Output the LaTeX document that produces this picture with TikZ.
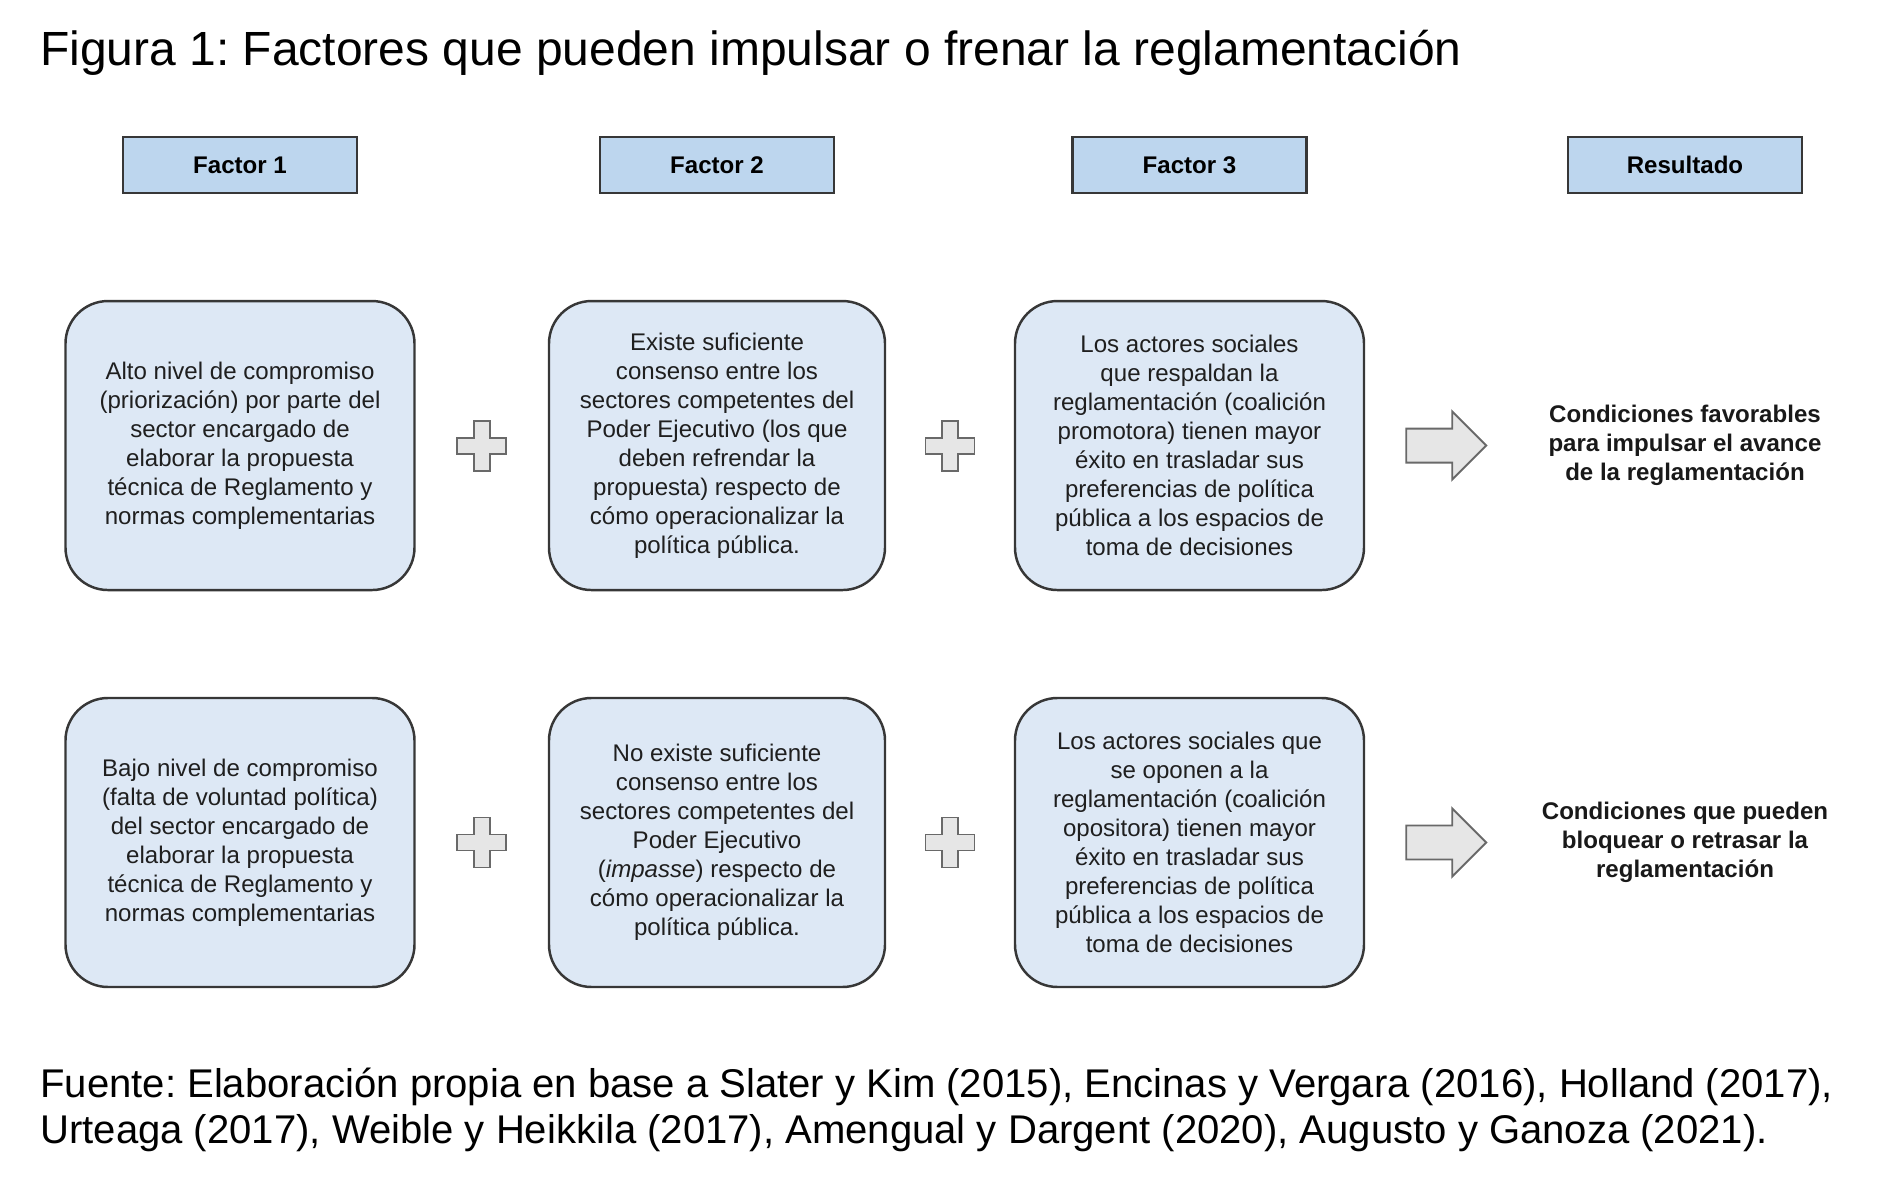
\documentclass[tikz,border=0pt]{standalone}
\usepackage{fontspec}
\setmainfont{Liberation Sans}
\frenchspacing
\usetikzlibrary{positioning}
\definecolor{headblue}{RGB}{189,214,238}
\definecolor{paleblue}{RGB}{221,232,245}
\definecolor{edgegray}{RGB}{55,55,55}
\definecolor{signgray}{RGB}{230,230,230}
\definecolor{signedge}{RGB}{105,105,105}
\tikzset{
  head/.style={draw=edgegray, line width=1.5pt, fill=headblue,
               minimum width=4.68cm, minimum height=1.12cm,
               font=\fontsize{13.7}{16.5}\selectfont\bfseries},
  factor/.style={draw=edgegray, line width=1.4pt, fill=paleblue,
                 rounded corners=0.85cm, align=center, minimum height=5.78cm,
                 minimum width=6.98cm, inner sep=2pt, text=black!88,
                 font=\fontsize{13.7}{16.5}\selectfont},
  result/.style={align=center, text=black!90,
                 font=\fontsize{13.7}{16.5}\selectfont\bfseries},
  sign/.style={draw=signedge, line width=1.1pt, fill=signgray}
}
\newcommand{\plussign}[1]{\draw[sign, shift={(#1)}] (-0.16,0.5) -- (0.16,0.5) -- (0.16,0.16) -- (0.49,0.16) -- (0.49,-0.16) -- (0.16,-0.16) -- (0.16,-0.5) -- (-0.16,-0.5) -- (-0.16,-0.16) -- (-0.49,-0.16) -- (-0.49,0.16) -- (-0.16,0.16) -- cycle;}
\newcommand{\fatarrow}[1]{\draw[sign, shift={(#1)}] (-0.8,0.34) -- (0.12,0.34) -- (0.12,0.68) -- (0.8,0) -- (0.12,-0.68) -- (0.12,-0.34) -- (-0.8,-0.34) -- cycle;}

\begin{document}
\begin{tikzpicture}[node distance=2.11cm]
  \useasboundingbox (0,0) rectangle (37.92,23.84);
  \node[anchor=base west, inner sep=0, font=\fontsize{27.3}{32}\selectfont] (title) at (0.8,22.52)
    {Figura 1: Factores que pueden impulsar o frenar la reglamentación};
  \node[head] (h1) at (4.8,20.54) {Factor 1};
  \node[head] (h2) at (14.34,20.54) {Factor 2};
  \node[head] (h3) at (23.79,20.54) {Factor 3};
  \node[head] (h4) at (33.7,20.54) {Resultado};
  \node[factor, below=of h1] (f11) {Alto nivel de compromiso\\(priorización) por parte del\\sector encargado de\\elaborar la propuesta\\técnica de Reglamento y\\normas complementarias};
  \node[factor, minimum width=6.72cm, below=of h2] (f12) {Existe suficiente\\consenso entre los\\sectores competentes del\\Poder Ejecutivo (los que\\deben refrendar la\\propuesta) respecto de\\cómo operacionalizar la\\política pública.};
  \node[factor, below=of h3] (f13) {Los actores sociales\\que respaldan la\\reglamentación (coalición\\promotora) tienen mayor\\éxito en trasladar sus\\preferencias de política\\pública a los espacios de\\toma de decisiones};
  \node[result] (r1) at (h4 |- f13) {Condiciones favorables\\para impulsar el avance\\de la reglamentación};
  \node[factor, below=of f11] (f21) {Bajo nivel de compromiso\\(falta de voluntad política)\\del sector encargado de\\elaborar la propuesta\\técnica de Reglamento y\\normas complementarias};
  \node[factor, minimum width=6.72cm, below=of f12] (f22) {No existe suficiente\\consenso entre los\\sectores competentes del\\Poder Ejecutivo\\(\textit{impasse}) respecto de\\cómo operacionalizar la\\política pública.};
  \node[factor, below=of f13] (f23) {Los actores sociales que\\se oponen a la\\reglamentación (coalición\\opositora) tienen mayor\\éxito en trasladar sus\\preferencias de política\\pública a los espacios de\\toma de decisiones};
  \node[result] (r2) at (h4 |- f23) {Condiciones que pueden\\bloquear o retrasar la\\reglamentación};
  \path (f11) -- (f12) coordinate[midway] (p11);
  \path (f12) -- (f13) coordinate[midway] (p12);
  \path (f21) -- (f22) coordinate[midway] (p21);
  \path (f22) -- (f23) coordinate[midway] (p22);
  \coordinate (a1) at ([xshift=1.62cm]f13.east);
  \coordinate (a2) at ([xshift=1.62cm]f23.east);
  \plussign{p11}
  \plussign{p12}
  \plussign{p21}
  \plussign{p22}
  \fatarrow{a1}
  \fatarrow{a2}
  \node[anchor=base west, inner sep=0, font=\fontsize{22.8}{26.2}\selectfont] (src1) at (0.8,1.88)
    {Fuente: Elaboración propia en base a Slater y Kim (2015), Encinas y Vergara (2016), Holland (2017),};
  \node[anchor=base west, inner sep=0, font=\fontsize{22.8}{26.2}\selectfont] (src2) at ([yshift=-0.92cm]src1.base west)
    {Urteaga (2017), Weible y Heikkila (2017), Amengual y Dargent (2020), Augusto y Ganoza (2021).};
\end{tikzpicture}
\end{document}
